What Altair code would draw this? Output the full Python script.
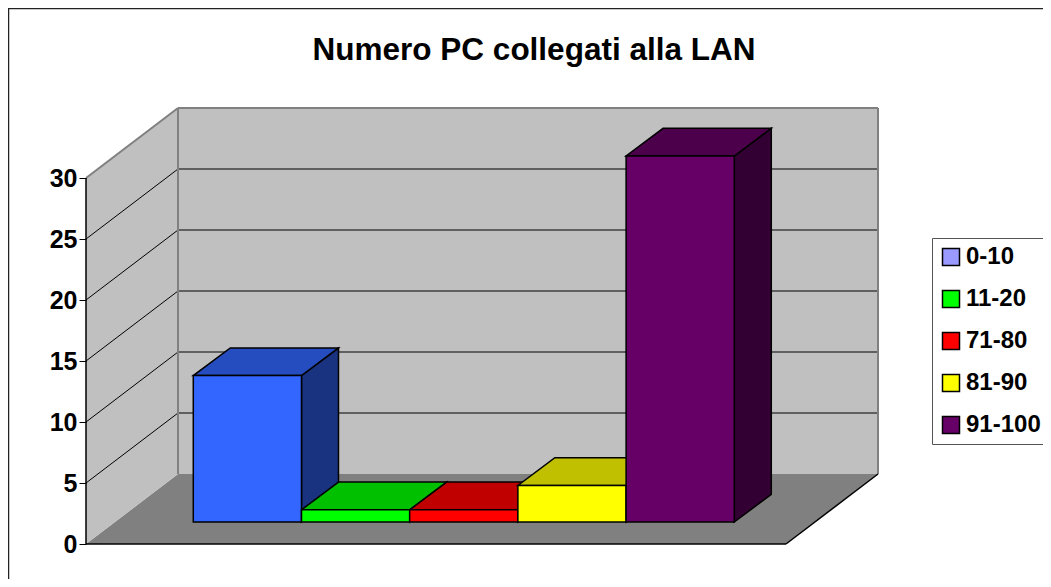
import altair as alt
import pandas as pd

# ---------------- data ----------------
categories = ["0-10", "11-20", "71-80", "81-90", "91-100"]
values = [12, 1, 1, 3, 30]
front_colors = ["#3366FF", "#00FF00", "#FF0000", "#FFFF00", "#660066"]
top_colors = ["#264DBF", "#00C000", "#C00000", "#C0C000", "#4C004C"]
side_colors = ["#1A3380", "#008000", "#800000", "#808000", "#330033"]
legend_colors = ["#9999FF", "#00FF00", "#FF0000", "#FFFF00", "#660066"]
tick_values = [0, 5, 10, 15, 20, 25, 30]
grid_values = [5, 10, 15, 20, 25]
title_text = "Numero PC collegati alla LAN"

# ---------------- 3-D projection constants (style) ----------------
PX_PER_UNIT = 12.2
WALL_DX = 92.0                 # horizontal depth shift of the walls (x units)
WALL_DY = 70.0 / PX_PER_UNIT   # vertical depth shift of the walls (value units)
FLOOR_W = 700.0
Y_MAX = 30
X_MAX = FLOOR_W + WALL_DX
Y_TOP = Y_MAX + WALL_DY
BAR_F = 0.314                  # depth position of bar front faces
BAR_DX = 37.0
BAR_DY = 27.7 / PX_PER_UNIT
BAR_START = 78.4
BAR_W = 108.2
FONT = "Liberation Sans"

xscale = alt.Scale(domain=[0, X_MAX], nice=False, zero=False)
yscale = alt.Scale(domain=[0, Y_TOP], nice=False, zero=False)
yaxis = alt.Axis(values=tick_values, title=None, domain=False, grid=False,
                 ticks=True, tickSize=7, tickColor="black", tickWidth=1,
                 labelFont=FONT, labelFontWeight="bold", labelFontSize=25,
                 labelColor="black", labelPadding=2, zindex=1)


def X(f):
    return alt.X(f, type="quantitative", scale=xscale, axis=None)


def Y(f):
    return alt.Y(f, type="quantitative", scale=yscale, axis=yaxis)


# ---------------- derived tables ----------------
fronts, tops, sides = [], [], []
for i, (c, v) in enumerate(zip(categories, values)):
    x0 = BAR_F * WALL_DX + BAR_START + i * BAR_W
    x1 = x0 + BAR_W
    y0 = BAR_F * WALL_DY
    y1 = y0 + v
    fronts.append(dict(cat=c, x=x0, x2=x1, y=y0, y2=y1, col=front_colors[i]))
    for (xx, ya, yb) in [(x0, y1, y1), (x0 + BAR_DX, y1, y1 + BAR_DY),
                         (x1, y1, y1 + BAR_DY), (x1 + BAR_DX, y1 + BAR_DY, y1 + BAR_DY)]:
        tops.append(dict(cat=c, x=xx, y=ya, y2=yb, col=top_colors[i]))
    for (xx, ya, yb) in [(x1, y0, y1), (x1 + BAR_DX, y0 + BAR_DY, y1 + BAR_DY)]:
        sides.append(dict(cat=c, x=xx, y=ya, y2=yb, col=side_colors[i]))
fronts = pd.DataFrame(fronts)
tops = pd.DataFrame(tops)
sides = pd.DataFrame(sides)

floor = pd.DataFrame(dict(x=[0, WALL_DX, FLOOR_W, X_MAX],
                          y=[0, 0, 0, WALL_DY],
                          y2=[0, WALL_DY, WALL_DY, WALL_DY]))
side_wall = pd.DataFrame(dict(x=[0, WALL_DX], y=[0, WALL_DY],
                              y2=[Y_MAX, Y_MAX + WALL_DY]))
back_wall = pd.DataFrame(dict(x=[WALL_DX], x2=[X_MAX], y=[WALL_DY], y2=[Y_TOP]))

grid_back = pd.DataFrame(dict(x=[WALL_DX] * len(grid_values),
                              x2=[X_MAX] * len(grid_values),
                              y=[g + WALL_DY for g in grid_values],
                              y2=[g + WALL_DY for g in grid_values]))
grid_side = pd.DataFrame(dict(x=[0] * len(grid_values),
                              x2=[WALL_DX] * len(grid_values),
                              y=grid_values,
                              y2=[g + WALL_DY for g in grid_values]))
wall_edges = pd.DataFrame(dict(
    x=[0, WALL_DX, WALL_DX, X_MAX],
    x2=[WALL_DX, WALL_DX, X_MAX, X_MAX],
    y=[Y_MAX, WALL_DY, Y_TOP, WALL_DY],
    y2=[Y_TOP, Y_TOP, Y_TOP, Y_TOP]))
dark_edges = pd.DataFrame(dict(
    x=[0, FLOOR_W, 0],
    x2=[FLOOR_W, X_MAX, 0],
    y=[0, 0, 0],
    y2=[0, WALL_DY, Y_MAX]))

# ---------------- layers ----------------
frame = alt.Chart(pd.DataFrame({"a": [0]})).mark_rect(
    fillOpacity=0, stroke="#222222", strokeWidth=1.5
).encode(x=alt.value(-77.5), x2=alt.value(1200), y=alt.value(-99.5), y2=alt.value(1200))

floor_l = alt.Chart(floor).mark_area(color="#808080", interpolate="linear").encode(
    x=X("x"), y=Y("y"), y2="y2")
side_l = alt.Chart(side_wall).mark_area(color="#C0C0C0", interpolate="linear").encode(
    x=X("x"), y=Y("y"), y2="y2")
back_l = alt.Chart(back_wall).mark_rect(color="#C0C0C0").encode(
    x=X("x"), x2="x2", y=Y("y"), y2="y2")
gb = alt.Chart(grid_back).mark_rule(color="black", strokeWidth=1).encode(
    x=X("x"), x2="x2", y=Y("y"), y2="y2")
gs = alt.Chart(grid_side).mark_rule(color="black", strokeWidth=1).encode(
    x=X("x"), x2="x2", y=Y("y"), y2="y2")
we = alt.Chart(wall_edges).mark_rule(color="#808080", strokeWidth=2).encode(
    x=X("x"), x2="x2", y=Y("y"), y2="y2")
de = alt.Chart(dark_edges).mark_rule(color="black", strokeWidth=1.5).encode(
    x=X("x"), x2="x2", y=Y("y"), y2="y2")

side_bars = alt.Chart(sides).mark_area(stroke="black", strokeWidth=1.5,
                                       interpolate="linear").encode(
    x=X("x"), y=Y("y"), y2="y2", detail="cat:N",
    color=alt.Color("col:N", scale=None))
top_bars = alt.Chart(tops).mark_area(stroke="black", strokeWidth=1.5,
                                     interpolate="linear").encode(
    x=X("x"), y=Y("y"), y2="y2", detail="cat:N",
    color=alt.Color("col:N", scale=None))

legend = alt.Legend(
    title=None, orient="none", legendX=846, legendY=130,
    symbolType="square", symbolSize=289, symbolStrokeColor="black",
    symbolStrokeWidth=1.5, labelFont=FONT, labelFontSize=24,
    labelFontWeight="bold", labelColor="black", labelOffset=3,
    rowPadding=18, padding=7, strokeColor="#555555", fillColor="white")

legend_bars = alt.Chart(fronts).mark_rect().encode(
    x=X("x"), x2="x2", y=Y("y"), y2="y2",
    color=alt.Color("cat:N", scale=alt.Scale(domain=categories, range=legend_colors),
                    sort=categories, legend=legend))
front_bars = alt.Chart(fronts).mark_rect(stroke="black", strokeWidth=1.5).encode(
    x=X("x"), x2="x2", y=Y("y"), y2="y2",
    color=alt.Color("col:N", scale=None))

chart = alt.layer(
    frame, floor_l, side_l, back_l, gb, gs, we, de,
    side_bars, top_bars, legend_bars, front_bars
).properties(
    width=X_MAX, height=Y_TOP * PX_PER_UNIT,
    padding={"left": 78, "top": 100, "right": 165, "bottom": 35},
    autosize=alt.AutoSizeParams(type="none"),
    title=alt.TitleParams(title_text, font=FONT, fontSize=31.5, fontWeight="bold",
                          color="black", anchor="middle", frame="group",
                          baseline="alphabetic", dx=52, dy=84, offset=0),
).configure(
    background="white",
    view=alt.ViewConfig(stroke="transparent", strokeWidth=0),
)

chart.save("out.html", embed_options={"renderer": "svg", "actions": False})
